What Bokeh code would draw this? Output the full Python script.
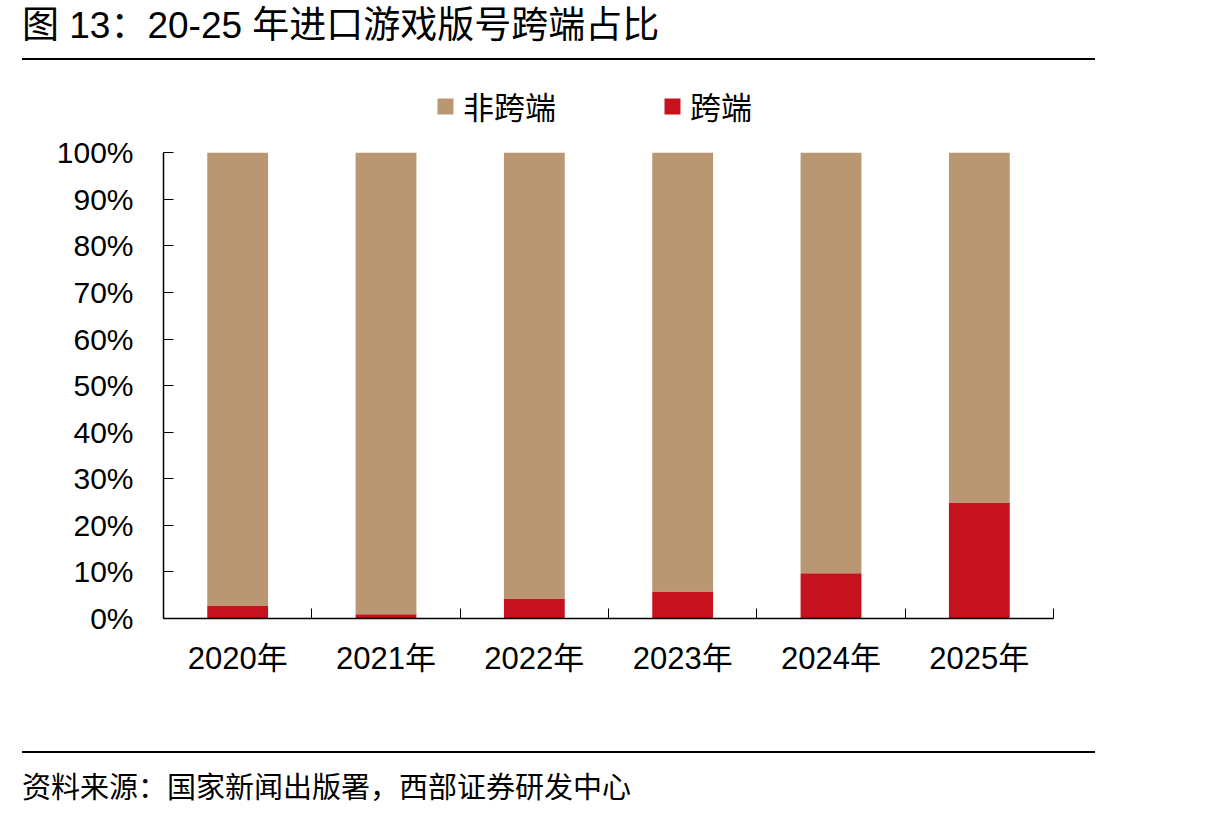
from bokeh.plotting import figure
from bokeh.models import (ColumnDataSource, Range1d, FixedTicker, PrintfTickFormatter,
                          Legend, LegendItem, Div)
from bokeh.layouts import column
from bokeh.embed import file_html
from bokeh.resources import INLINE

# ---- data ----
years = ["2020年", "2021年", "2022年", "2023年", "2024年", "2025年"]
cross_share = [2.8, 0.9, 4.3, 5.8, 9.7, 24.9]          # 跨端 (%)
non_cross_share = [97.2, 99.1, 95.7, 94.2, 90.3, 75.1]  # 非跨端 (%)
y_ticks = [0, 10, 20, 30, 40, 50, 60, 70, 80, 90, 100]

title_text = "图 13：20-25 年进口游戏版号跨端占比"
source_text = "资料来源：国家新闻出版署，西部证券研发中心"

C_NON = "#B99772"
C_CROSS = "#C5121E"
FONT = "Liberation Sans, Noto Sans CJK SC"

n = len(years)
xpos = [i + 0.5 for i in range(n)]
src = ColumnDataSource(dict(x=xpos, cross=cross_share, non=non_cross_share))

# y range extends above 100% to leave room for the legend inside the frame
p = figure(width=1215, height=681, output_backend="svg", toolbar_location=None,
           x_range=Range1d(0, n), y_range=Range1d(0, 114),
           min_border_left=163, min_border_right=162,
           min_border_top=23, min_border_bottom=127)
p.outline_line_color = None
p.grid.visible = False
p.background_fill_color = "white"
p.border_fill_color = "white"

rs = p.vbar_stack(["cross", "non"], x="x", width=0.41, source=src,
                  color=[C_CROSS, C_NON], line_color=None)

# x axis
xa = p.xaxis[0]
xa.ticker = FixedTicker(ticks=xpos, minor_ticks=list(range(n + 1)))
xa.major_label_overrides = {x: y for x, y in zip(xpos, years)}
xa.major_tick_in = 0
xa.major_tick_out = 0
xa.minor_tick_in = 10
xa.minor_tick_out = 0
xa.minor_tick_line_color = "black"
xa.axis_line_color = "black"
xa.axis_line_width = 1.5
xa.major_label_text_font = FONT
xa.major_label_text_font_size = "31px"
xa.major_label_text_color = "black"
xa.major_label_standoff = 22

# y axis
ya = p.yaxis[0]
ya.ticker = FixedTicker(ticks=y_ticks)
ya.formatter = PrintfTickFormatter(format="%d%%")
ya.bounds = (0, 100)
ya.major_tick_in = 10
ya.major_tick_out = 0
ya.minor_tick_line_color = None
ya.axis_line_color = "black"
ya.axis_line_width = 1.5
ya.major_label_text_font = FONT
ya.major_label_text_font_size = "30px"
ya.major_label_text_color = "black"
ya.major_label_standoff = 30

legend = Legend(items=[LegendItem(label="非跨端", renderers=[rs[1]]),
                       LegendItem(label="跨端", renderers=[rs[0]])],
                orientation="horizontal", location=(272, 490))
legend.label_text_font = FONT
legend.label_text_font_size = "31px"
legend.label_text_color = "black"
legend.glyph_width = 20
legend.glyph_height = 20
legend.label_standoff = 8
legend.spacing = 106
legend.padding = 0
legend.margin = 0
legend.border_line_color = None
legend.background_fill_alpha = 0
p.add_layout(legend, "center")

title_div = Div(width=1215, height=64, margin=0, text=(
    '<div style="position:relative;width:1215px;height:64px;">'
    '<div style="position:absolute;left:22px;top:4px;font-size:37px;line-height:44px;'
    'font-family:\'Liberation Sans\',\'Noto Sans CJK SC\';color:black;white-space:nowrap;">'
    + title_text + '</div>'
    '<div style="position:absolute;left:22px;top:58px;width:1073px;height:2px;background:black;"></div>'
    '</div>'))

foot_div = Div(width=1215, height=72, margin=0, text=(
    '<div style="position:relative;width:1215px;height:72px;">'
    '<div style="position:absolute;left:22px;top:6px;width:1073px;height:2px;background:black;"></div>'
    '<div style="position:absolute;left:22px;top:22px;font-size:29px;line-height:36px;'
    'font-family:\'Noto Sans CJK SC\';color:black;white-space:nowrap;">'
    + source_text + '</div>'
    '</div>'))

layout = column(title_div, p, foot_div, spacing=0)
open("out.html", "w").write(file_html(layout, INLINE))
